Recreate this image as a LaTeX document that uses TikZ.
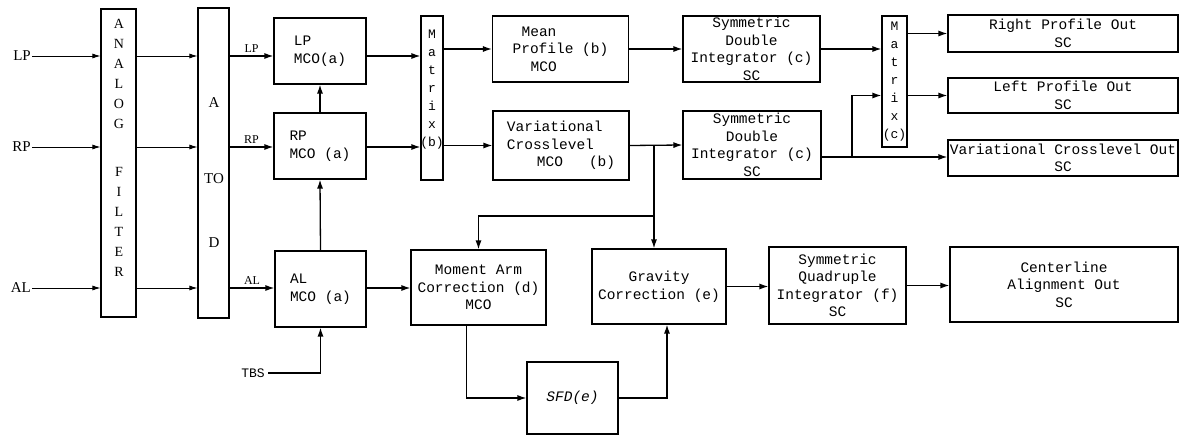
\documentclass[tikz,border=0pt]{standalone}
\usepackage{fontspec}
\setmainfont{Liberation Serif}
\setmonofont{Liberation Mono}
\usetikzlibrary{calc, arrows.meta}

\newcommand\boxfont{\ttfamily\fontsize{14.5}{17.5}\selectfont}
\newcommand\letfont{\ttfamily\fontsize{13}{18}\selectfont}

\tikzset{
  blk/.style={draw, line width=1.1pt, inner sep=0pt, align=center, font=\boxfont},
  arr/.style={line width=1.3pt, -{Latex[length=9pt, width=6pt]}},
  thinarr/.style={line width=0.8pt, -{Latex[length=8pt, width=5pt]}},
  lab/.style={inner sep=1pt, font=\fontsize{15}{17}\selectfont}
}

\begin{document}
\begin{tikzpicture}[x=1pt, y=-1pt]
  \useasboundingbox (0,0) rectangle (1180,436);

  % signal rows
  \coordinate (rowlp) at (0,56);
  \coordinate (rowrp) at (0,147);
  \coordinate (rowal) at (0,288);

  % input stages
  \node[blk, minimum width=35pt, minimum height=308pt] (filt) at (118.5,163) {};
  \node[align=center, font=\fontsize{14}{20}\selectfont] at (119,148)
    {A\\N\\A\\L\\O\\G\\[28pt]F\\I\\L\\T\\E\\R};
  \node[blk, minimum width=31pt, minimum height=310pt] (atod) at (213.5,163) {};
  \node[font=\fontsize{15}{17}\selectfont] at (214,103) {A};
  \node[font=\fontsize{15}{17}\selectfont] at (214,179) {TO};
  \node[font=\fontsize{15}{17}\selectfont] at (214,243) {D};

  \node[lab, anchor=east] (lpin) at (32,56) {LP};
  \node[lab, anchor=east] (rpin) at (32,147) {RP};
  \node[lab, anchor=east] (alin) at (32,288) {AL};

  % MCO stage
  \node[blk, align=left, minimum width=92pt, minimum height=66pt] (lpmco) at (320,51) {LP\\MCO(a)};
  \node[blk, align=left, minimum width=92pt, minimum height=66pt] (rpmco) at (320,146) {RP\\MCO (a)};
  \node[blk, align=left, minimum width=91pt, minimum height=76pt] (almco) at (320.5,289) {AL\\MCO (a)};
  \node[font=\ttfamily\fontsize{13}{15}\selectfont] (tbs) at (253,373) {TBS};

  % matrices
  \node[blk, minimum width=22pt, minimum height=164pt] (mtxb) at (432,98) {};
  \node[align=center, font=\letfont] at (432,90) {M\\a\\t\\r\\i\\x\\(b)};
  \node[blk, minimum width=25pt, minimum height=131pt] (mtxc) at (894.5,81.5) {};
  \node[align=center, font=\letfont] at (894.5,82) {M\\a\\t\\r\\i\\x\\(c)};

  % profile path
  \node[blk, align=left, minimum width=136pt, minimum height=66pt] (mean) at (560.5,49)
    {\hspace*{9pt}Mean\\Profile (b)\\\hspace*{18pt}MCO};
  \node[blk, align=left, minimum width=136pt, minimum height=69pt] (varx) at (561,145.5)
    {Variational\\Crosslevel\\\hspace*{30pt}MCO\hspace*{26pt}(b)};
  \node[blk, minimum width=137pt, minimum height=66pt] (sdia) at (751.5,49)
    {Symmetric\\Double\\Integrator (c)\\SC};
  \node[blk, minimum width=138pt, minimum height=68pt] (sdib) at (752,145)
    {Symmetric\\Double\\Integrator (c)\\SC};

  % outputs
  \node[blk, minimum width=230pt, minimum height=37pt] (rpout) at (1063,33.5) {Right Profile Out\\SC};
  \node[blk, minimum width=230pt, minimum height=35pt] (lpout) at (1063,95.5) {Left Profile Out\\SC};
  \node[blk, minimum width=230pt, minimum height=36pt] (vxout) at (1063,158) {Variational Crosslevel Out\\SC};

  % alignment path
  \node[blk, minimum width=135pt, minimum height=75pt] (marm) at (478.5,287.5)
    {Moment Arm\\Correction (d)\\MCO};
  \node[blk, minimum width=134pt, minimum height=75pt] (grav) at (659,286.5)
    {Gravity\\Correction (e)};
  \node[blk, minimum width=91pt, minimum height=72pt, font=\boxfont\itshape] (sfd) at (572.5,398) {SFD(e)};
  \node[blk, minimum width=137pt, minimum height=77pt] (sqi) at (837.5,285.5)
    {Symmetric\\Quadruple\\Integrator (f)\\SC};
  \node[blk, minimum width=228pt, minimum height=75pt] (cline) at (1064,284.5)
    {Centerline\\Alignment Out\\SC};

  \coordinate (j1) at (654,145.5);
  \coordinate (j2) at (654,216);
  \coordinate (j3) at (852,157);

  % inputs through filter and A to D
  \foreach \r/\i in {rowlp/lpin, rowrp/rpin, rowal/alin} {
    \draw[thinarr] (\i.east) -- (filt.west |- \r);
    \draw[thinarr] (filt.east |- \r) -- (atod.west |- \r);
  }
  \draw[arr] (atod.east |- rowlp) -- node[above, font=\fontsize{12}{14}\selectfont] {LP} (lpmco.west |- rowlp);
  \draw[arr] (atod.east |- rowrp) -- node[above, font=\fontsize{12}{14}\selectfont] {RP} (rpmco.west |- rowrp);
  \draw[arr] (atod.east |- rowal) -- node[above, font=\fontsize{12}{14}\selectfont] {AL} (almco.west |- rowal);

  \draw[arr] (rpmco.north) -- (lpmco.south);
  \draw[arr] (almco.north) -- (rpmco.south);
  \draw[arr] (tbs.east) -| (almco.south);

  \draw[arr] (lpmco.east |- rowlp) -- (mtxb.west |- rowlp);
  \draw[arr] (rpmco.east |- rowrp) -- (mtxb.west |- rowrp);
  \draw[arr] (mtxb.east |- mean.west) -- (mean.west);
  \draw[arr] (mtxb.east |- varx.west) -- (varx.west);
  \draw[arr] (mean.east) -- (sdia.west);
  \draw[arr] (varx.east) -- (sdib.west);

  \draw[arr] (j1) -- (j1 |- grav.north);
  \draw[arr] (j2) -| (marm.north);

  \draw[arr] (sdia.east) -- (sdia.east -| mtxc.west);
  \draw[arr] (sdib.east |- j3) -- (vxout.west |- j3);
  \draw[arr] (j3) |- (mtxc.west |- lpout.west);
  \draw[arr] (mtxc.east |- rpout.west) -- (rpout.west);
  \draw[arr] (mtxc.east |- lpout.west) -- (lpout.west);

  \draw[arr] (almco.east |- rowal) -- (marm.west |- rowal);
  \draw[arr] ([xshift=-12pt]marm.south) |- (sfd.west);
  \draw[arr] (sfd.east) -| ([xshift=8pt]grav.south);
  \draw[arr] (grav.east) -- (sqi.west |- grav.east);
  \draw[arr] (sqi.east) -- (cline.west |- sqi.east);
\end{tikzpicture}
\end{document}
